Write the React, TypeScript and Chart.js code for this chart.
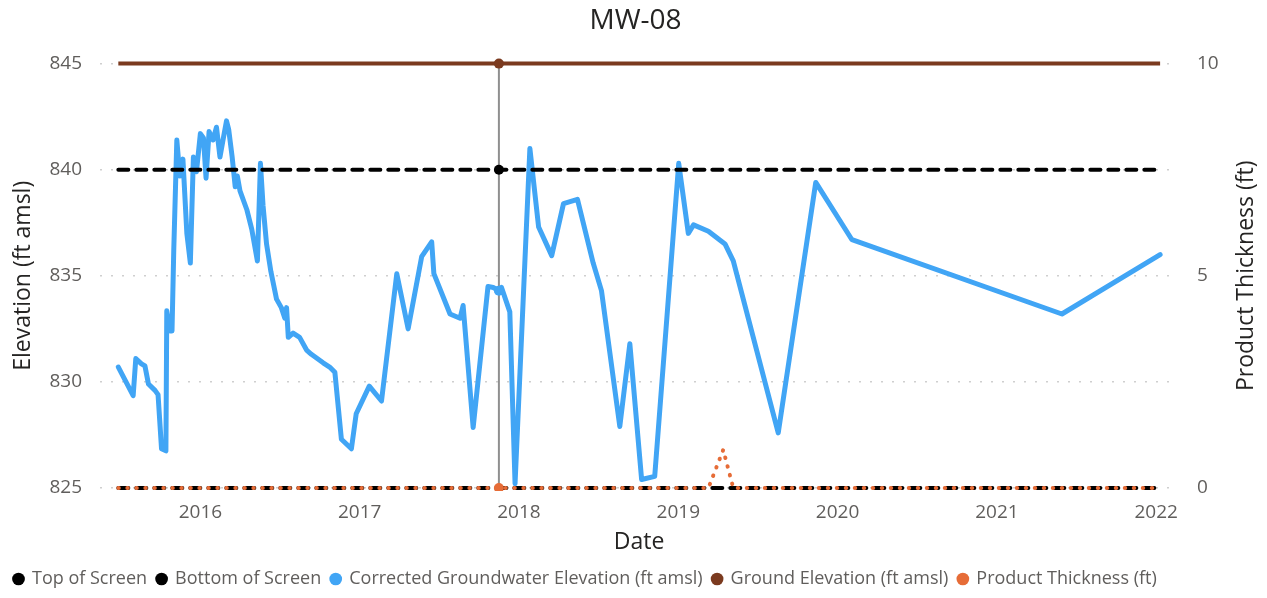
import React, { useEffect, useRef } from "react";
import { Chart, registerables } from "chart.js";

Chart.register(...registerables);

const TITLE = "MW-08";
const X_TITLE = "Date";
const Y_TITLE = "Elevation (ft amsl)";
const Y1_TITLE = "Product Thickness (ft)";

const X_MIN = "2015-05-16";
const X_MAX = "2022-02-20";
const HOVER_DATE = "2017-11-16";

const yearTicks = [2016, 2017, 2018, 2019, 2020, 2021, 2022];
const elevTicks = [825, 830, 835, 840, 845];
const thickTicks = [0, 5, 10];

const gwDates = [
  "2015-06-27", "2015-07-31", "2015-08-06", "2015-08-19", "2015-08-27", "2015-09-04",
  "2015-09-19", "2015-09-26", "2015-10-04", "2015-10-14", "2015-10-16", "2015-10-23",
  "2015-10-28", "2015-11-01", "2015-11-08", "2015-11-15", "2015-11-22", "2015-12-01",
  "2015-12-09", "2015-12-16", "2015-12-23", "2016-01-01", "2016-01-08", "2016-01-14",
  "2016-01-21", "2016-01-30", "2016-02-07", "2016-02-15", "2016-02-22", "2016-03-01",
  "2016-03-06", "2016-03-14", "2016-03-21", "2016-03-26", "2016-04-01", "2016-04-17",
  "2016-04-28", "2016-05-11", "2016-05-18", "2016-05-24", "2016-06-01", "2016-06-11",
  "2016-06-24", "2016-07-05", "2016-07-13", "2016-07-17", "2016-07-21", "2016-08-01",
  "2016-08-16", "2016-09-01", "2016-09-12", "2016-10-09", "2016-10-24", "2016-11-05",
  "2016-11-20", "2016-12-13", "2016-12-24", "2017-01-23", "2017-02-20", "2017-03-27",
  "2017-04-22", "2017-05-23", "2017-06-15", "2017-06-20", "2017-07-27", "2017-08-19",
  "2017-08-26", "2017-09-18", "2017-10-22", "2017-11-03", "2017-11-16", "2017-11-22",
  "2017-12-11", "2017-12-23", "2018-01-26", "2018-02-15", "2018-03-17", "2018-04-13",
  "2018-05-15", "2018-06-20", "2018-07-09", "2018-08-20", "2018-09-12", "2018-10-09",
  "2018-11-08", "2019-01-02", "2019-01-24", "2019-02-05", "2019-03-11", "2019-04-18",
  "2019-05-07", "2019-08-18", "2019-11-12", "2020-02-03", "2021-05-30", "2022-01-10",
];

const gwValues = [
  830.7, 829.35, 831.1, 830.85, 830.75, 829.9,
  829.6, 829.4, 826.85, 826.75, 833.35, 832.4,
  832.4, 836.2, 841.4, 839.7, 840.5, 837.0,
  835.6, 840.6, 839.9, 841.7, 841.5, 839.6,
  841.8, 841.4, 842.0, 840.6, 841.4, 842.3,
  841.9, 840.6, 839.2, 839.7, 839.0, 838.1,
  837.2, 835.7, 840.3, 838.3, 836.5, 835.2,
  833.9, 833.5, 833.0, 833.5, 832.1, 832.3,
  832.1, 831.5, 831.3, 830.9, 830.7, 830.45,
  827.3, 826.85, 828.5, 829.8, 829.1, 835.1,
  832.5, 835.9, 836.6, 835.1, 833.2, 833.0,
  833.6, 827.85, 834.5, 834.45, 834.3, 834.45,
  833.3, 825.2, 841.0, 837.3, 835.95, 838.4,
  838.6, 835.6, 834.3, 827.9, 831.8, 825.4,
  825.55, 840.3, 837.0, 837.4, 837.1, 836.5,
  835.7, 827.6, 839.4, 836.7, 833.2, 836.0,
];

const screenDates = ["2015-06-27", "2017-11-16", "2022-01-10"];
const topOfScreen = [840, 840, 840];
const bottomOfScreen = [825, 825, 825];
const groundElevation = [845, 845, 845];

const productDates = ["2015-06-27", "2017-11-16", "2019-03-11", "2019-04-14", "2019-05-07", "2022-01-10"];
const productThickness = [0, 0, 0, 0.9, 0, 0];

const COLORS = {
  top: "#000000",
  bottom: "#000000",
  gw: "#41A5F5",
  ground: "#7B3A1F",
  product: "#E66C37",
};

function toYear(d: string): number {
  const [y, m, day] = d.split("-").map(Number);
  const start = Date.UTC(y, 0, 1);
  const end = Date.UTC(y + 1, 0, 1);
  return y + (Date.UTC(y, m - 1, day) - start) / (end - start);
}

function zip(dates: string[], values: number[]) {
  return dates.map((d, i) => ({ x: toYear(d), y: values[i] }));
}

const HOVER_X = toYear(HOVER_DATE);
const hoverRadius = (r: number) => (ctx: any) =>
  ctx.raw && Math.abs(ctx.raw.x - HOVER_X) < 1e-6 ? r : 0;

const overlayPlugin = {
  id: "overlay",
  beforeDatasetsDraw(chart: any) {
    const { ctx, chartArea, scales } = chart;
    const x = scales.x.getPixelForValue(HOVER_X);
    ctx.save();
    ctx.strokeStyle = "#8f8f8f";
    ctx.lineWidth = 2;
    ctx.beginPath();
    ctx.moveTo(x, chartArea.top);
    ctx.lineTo(x, chartArea.bottom);
    ctx.stroke();
    ctx.restore();
  },
  afterDraw(chart: any) {
    const { ctx, chartArea, scales } = chart;
    const y1 = scales.y1;
    ctx.save();
    ctx.translate(y1.right - 21, (chartArea.top + chartArea.bottom) / 2);
    ctx.rotate(-Math.PI / 2);
    ctx.textAlign = "center";
    ctx.textBaseline = "middle";
    ctx.fillStyle = "#252423";
    ctx.font = "23px 'Open Sans', sans-serif";
    ctx.fillText(Y1_TITLE, 0, 0);
    ctx.restore();
  },
};

export default function App() {
  const ref = useRef<HTMLCanvasElement | null>(null);

  useEffect(() => {
    if (!ref.current) return;
    Chart.defaults.font.family = "'Open Sans', sans-serif";
    const names = [
      "Top of Screen",
      "Bottom of Screen",
      "Corrected Groundwater Elevation (ft amsl)",
      "Ground Elevation (ft amsl)",
      "Product Thickness (ft)",
    ];
    const colors = [COLORS.top, COLORS.bottom, COLORS.gw, COLORS.ground, COLORS.product];

    const chart = new Chart(ref.current, {
      type: "line",
      data: {
        datasets: [
          {
            label: names[0],
            data: zip(screenDates, topOfScreen),
            borderColor: COLORS.top,
            backgroundColor: COLORS.top,
            borderWidth: 4,
            borderDash: [10, 8],
            borderCapStyle: "round",
            pointRadius: hoverRadius(5),
            pointBorderWidth: 0,
            yAxisID: "y",
            order: 1,
          },
          {
            label: names[1],
            data: zip(screenDates, bottomOfScreen),
            borderColor: COLORS.bottom,
            backgroundColor: COLORS.bottom,
            borderWidth: 4,
            borderDash: [10, 8],
            borderCapStyle: "round",
            pointRadius: 0,
            yAxisID: "y",
            clip: false,
            order: 2,
          },
          {
            label: names[2],
            data: zip(gwDates, gwValues),
            borderColor: COLORS.gw,
            backgroundColor: COLORS.gw,
            borderWidth: 5,
            borderJoinStyle: "round",
            borderCapStyle: "round",
            pointRadius: hoverRadius(5),
            pointBorderWidth: 0,
            yAxisID: "y",
            order: 3,
          },
          {
            label: names[3],
            data: zip(screenDates, groundElevation),
            borderColor: COLORS.ground,
            backgroundColor: COLORS.ground,
            borderWidth: 4,
            pointRadius: hoverRadius(5),
            pointBorderWidth: 0,
            yAxisID: "y",
            clip: false,
            order: 4,
          },
          {
            label: names[4],
            data: zip(productDates, productThickness),
            borderColor: COLORS.product,
            backgroundColor: COLORS.product,
            borderWidth: 4,
            borderDash: [0.5, 8.5],
            borderCapStyle: "round",
            pointRadius: hoverRadius(5),
            pointBorderWidth: 0,
            yAxisID: "y1",
            clip: { left: false, right: false, top: false, bottom: 3 },
            order: 0,
          },
        ],
      },
      options: {
        responsive: false,
        animation: false,
        events: [],
        layout: { padding: { left: 4, right: 0, top: 0, bottom: 0 } },
        scales: {
          x: {
            type: "linear",
            min: toYear(X_MIN),
            max: toYear(X_MAX),
            grid: { display: false },
            border: { display: false },
            afterBuildTicks: (s: any) => {
              s.ticks = yearTicks.map((v) => ({ value: v }));
            },
            ticks: {
              color: "#605E5C",
              font: { size: 19 },
              padding: 5,
              maxRotation: 0,
              autoSkip: false,
              callback: (v: any) => String(v),
            },
            title: {
              display: true,
              text: X_TITLE,
              color: "#252423",
              font: { size: 23 },
              padding: { top: 0, bottom: 4 },
            },
            afterFit: (s: any) => {
              s.height = 72;
            },
          },
          y: {
            position: "left",
            min: elevTicks[0],
            max: elevTicks[elevTicks.length - 1],
            afterBuildTicks: (s: any) => {
              s.ticks = elevTicks.map((v) => ({ value: v }));
            },
            grid: { color: "#cfcfcf", lineWidth: 1.5, drawTicks: false },
            border: { display: false, dash: [2, 9] },
            ticks: { color: "#605E5C", font: { size: 19 }, padding: 18 },
            title: {
              display: true,
              text: Y_TITLE,
              color: "#252423",
              font: { size: 23 },
              padding: { top: 6, bottom: 0 },
            },
            afterFit: (s: any) => {
              s.width = 96;
            },
          },
          y1: {
            position: "right",
            min: thickTicks[0],
            max: thickTicks[thickTicks.length - 1],
            afterBuildTicks: (s: any) => {
              s.ticks = thickTicks.map((v) => ({ value: v }));
            },
            grid: { display: false, drawTicks: false },
            border: { display: false },
            ticks: { color: "#605E5C", font: { size: 19 }, padding: 19 },
            afterFit: (s: any) => {
              s.width = 89;
            },
          },
        },
        plugins: {
          title: {
            display: true,
            text: TITLE,
            color: "#252423",
            font: { size: 28, weight: "normal" },
            padding: { top: 4, bottom: 26 },
          },
          legend: {
            position: "bottom",
            align: "start",
            labels: {
              usePointStyle: true,
              boxWidth: 9,
              boxHeight: 9,
              padding: 10,
              color: "#605E5C",
              font: { size: 18 },
              generateLabels: () =>
                names.map((n, i) => ({
                  text: n,
                  fillStyle: colors[i],
                  strokeStyle: colors[i],
                  lineWidth: 0,
                  pointStyle: "circle",
                  hidden: false,
                  datasetIndex: i,
                  fontColor: "#605E5C",
                })),
            },
          },
          tooltip: { enabled: false },
        },
      },
      plugins: [overlayPlugin],
    } as any);

    return () => chart.destroy();
  }, []);

  return (
    <div style={{ position: "fixed", left: 0, top: 0, width: 1267, height: 598, background: "#fff" }}>
      <canvas ref={ref} width={1267} height={598} style={{ display: "block" }} />
    </div>
  );
}
